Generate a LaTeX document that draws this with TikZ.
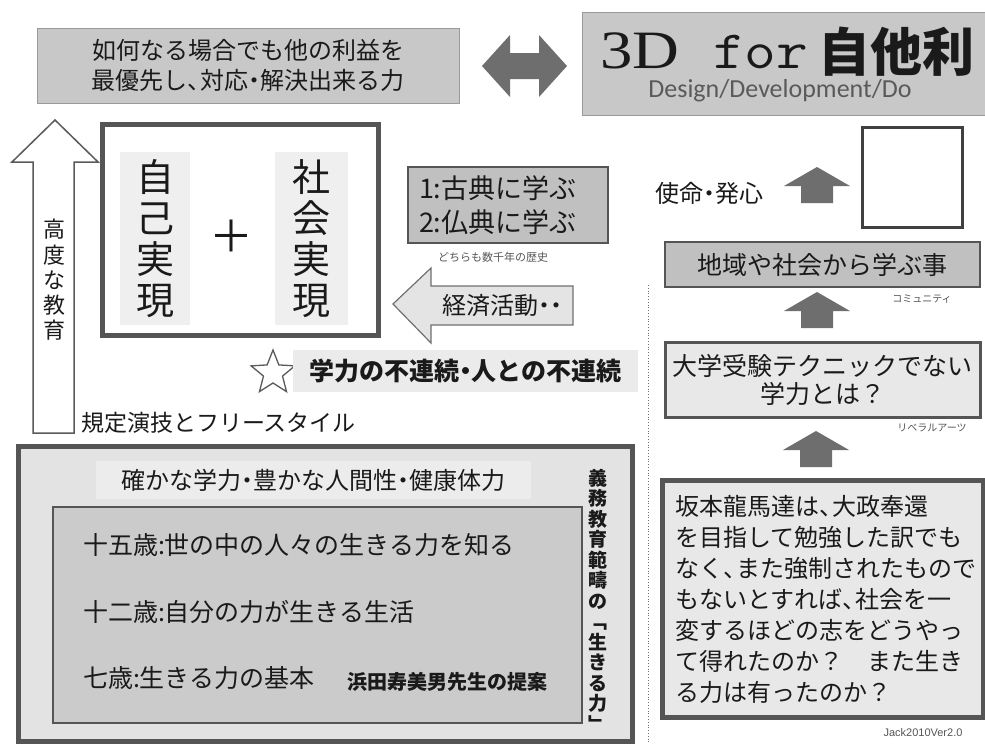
\documentclass[tikz,border=0pt]{standalone}
\usepackage{graphicx}
\usepackage{fontspec}
\setmainfont{Noto Sans CJK JP}
\newfontfamily\serifA{Liberation Serif}
\newfontfamily\carl{Carlito}
\newfontfamily\lsans{Liberation Sans}
\usetikzlibrary{shapes.geometric}
\definecolor{boxgray}{HTML}{C8C8C8}
\definecolor{boxgraytwo}{HTML}{C0C0C0}
\definecolor{edgeA}{HTML}{9A9A9A}
\definecolor{edgeB}{HTML}{5A5A5A}
\definecolor{edgeC}{HTML}{555555}
\definecolor{edgeD}{HTML}{707070}
\definecolor{edgeE}{HTML}{404040}
\definecolor{arrowgray}{HTML}{6E6E6E}
\definecolor{arrowlt}{HTML}{E4E4E4}
\definecolor{lightbg}{HTML}{EBEBEB}
\definecolor{outerfill}{HTML}{E3E3E3}
\definecolor{headerfill}{HTML}{ECECEC}
\definecolor{innerfill}{HTML}{CBCBCB}
\definecolor{innerlt}{HTML}{EFEFEF}
\definecolor{lightbox}{HTML}{E8E8E8}
\definecolor{textgray}{HTML}{555555}
\definecolor{inkc}{HTML}{1A1A1A}
\newcommand{\jfs}[2]{\fontsize{#1}{#2}\selectfont}
\newcommand{\tenN}{\makebox[0.55em][l]{、}}
\newcommand{\dotN}{\makebox[0.5em][c]{・}}
\tikzset{
  uparr/.pic={\fill[arrowgray] (0,0) -- (33,19) -- (16,19) -- (16,36) -- (-16,36) -- (-16,19) -- (-33,19) -- cycle;},
  flatbox/.style={draw=edgeA, line width=1pt, fill=boxgray},
  darkbox/.style={draw=edgeC},
  tinylabel/.style={text=textgray},
}
\begin{document}
\begin{tikzpicture}[x=1pt,y=-1pt, every node/.style={inner sep=0pt, outer sep=0pt, text=inkc}]
\useasboundingbox (0,0) rectangle (985,744);
\fill[white] (0,0) rectangle (985,744);

% top-left goal box
\node[flatbox, minimum width=422, minimum height=75, align=center, font=\jfs{24}{30}] (goal) at (248,65.5) {如何なる場合でも他の利益を\\最優先し\tenN 対応\dotN 解決出来る力};

% double arrow
\fill[arrowgray] (482,66) -- (510,35) -- (510,53) -- (539,53) -- (539,35) -- (567,66) -- (539,97) -- (539,79) -- (510,79) -- (510,97) -- cycle;

% title box
\node[flatbox, minimum width=406, minimum height=103, anchor=north west] (title) at (582,12) {};
\node[anchor=base, font=\serifA\fontsize{54}{54}\selectfont] (t3d) at (640,68) {\scalebox{1.2}[1]{3D}};
\node[anchor=base west, font=\ttfamily\fontsize{54}{54}\selectfont] (tfor) at (713,68) {\scalebox{1.14}[1]{for}};
\node[anchor=base west, font=\bfseries\jfs{52}{52}] (tjita) at (818,71) {自他利};
\node[font=\carl\fontsize{26}{26}\selectfont, text=edgeB] (tsub) at (780,91) {Design/Development/Do};

% white up arrow
\filldraw[fill=white, draw=edgeB, line width=1.5] (55,120) -- (98,162) -- (74,162) -- (74,433) -- (33,433) -- (33,162) -- (12,162) -- cycle;
\node[font=\jfs{22}{25.2}, align=center] (edu) at (54,280) {高\\度\\な\\教\\育};

% self + social realisation
\node[darkbox, line width=5, fill=white, minimum width=276, minimum height=211] (real) at (240,229.5) {};
\node[fill=innerlt, minimum width=70, minimum height=173, align=center, font=\jfs{38}{41}] (self) at (155,238.5) {自\\己\\実\\現};
\node[fill=innerlt, minimum width=73, minimum height=173, align=center, font=\jfs{38}{41}] (social) at (311.5,238.5) {社\\会\\実\\現};
\node[font=\jfs{44}{44}] (plus) at (231,236) {＋};

% classics box
\node[darkbox, line width=2, fill=boxgraytwo, minimum width=200, minimum height=76] (classics) at (508,205) {};
\node[anchor=west, align=left, font=\jfs{27}{34}] (classicstext) at (419,205) {1:古典に学ぶ\\2:仏典に学ぶ};
\node[tinylabel, font=\jfs{11}{11}] (hist) at (493,257) {どちらも数千年の歴史};

% economy arrow
\filldraw[fill=arrowlt, draw=edgeD, line width=1.2] (393,304) -- (431,268) -- (431,286) -- (573,286) -- (573,325) -- (431,325) -- (431,343) -- cycle;
\node[font=\jfs{24}{24}] (econ) at (502,305) {経済活動\dotN\dotN};

% star + discontinuity
\node[star, star points=5, star point ratio=2.3, minimum size=46, draw=edgeB, fill=white, line width=1.3] (star) at (273,373) {};
\node[fill=lightbg, minimum width=345, minimum height=42, font=\bfseries\jfs{25}{25}] (gap) at (465.5,371) {学力の不連続\dotN 人との不連続};

\node[anchor=west, font=\jfs{23}{23}] (kitei) at (81,423) {規定演技とフリースタイル};

% compulsory education box
\node[darkbox, line width=5, fill=outerfill, minimum width=614, minimum height=295, anchor=north west] (compulsory) at (18,446) {};
\node[fill=headerfill, minimum width=435, minimum height=38, font=\jfs{24}{24}] (hdr) at (313,480) {確かな学力\dotN 豊かな人間性\dotN 健康体力};
\node[darkbox, line width=2, fill=innerfill, minimum width=529, minimum height=216, anchor=north west] (ages) at (53,507) {};
\node[anchor=west, font=\jfs{25}{25}] (a15) at (83,545) {十五歳:世の中の人々の生きる力を知る};
\node[anchor=west, font=\jfs{25}{25}] (a12) at (83,612) {十二歳:自分の力が生きる生活};
\node[anchor=west, font=\jfs{25}{25}] (a7) at (83,678) {七歳:生きる力の基本};
\node[anchor=west, font=\bfseries\jfs{20}{20}] (hamada) at (347,682) {浜田寿美男先生の提案};
\node[align=center, font=\bfseries\jfs{19}{20.5}] (ikiru) at (598,600) {義\\務\\教\\育\\範\\疇\\の\\﹁\\生\\き\\る\\力\\﹂};

% divider
\coordinate (divtop) at (648,285);
\coordinate (divbot) at (648,744);
\draw[dotted, draw=edgeD, line width=0.8] (divtop) -- (divbot);

% right column
\node[font=\jfs{24}{24}] (mission) at (709,193) {使命\dotN 発心};
\pic at (817,167) {uparr};
\node[draw=edgeE, line width=3, fill=white, minimum width=100, minimum height=100] (blank) at (912,177) {};
\node[darkbox, line width=2.5, fill=boxgraytwo, minimum width=315, minimum height=45, font=\jfs{25}{25}] (community) at (822.5,264.5) {地域や社会から学ぶ事};
\node[tinylabel, font=\jfs{10}{10}] (commlbl) at (922,299) {コミュニティ};
\pic at (817,292) {uparr};
\node[darkbox, line width=3, fill=lightbox, minimum width=315, minimum height=75, align=center, font=\jfs{25}{28}] (liberal) at (822.5,379.5) {大学受験テクニックでない\\学力とは？};
\node[tinylabel, font=\jfs{10}{10}] (liblbl) at (932,428) {リベラルアーツ};
\pic at (816,431) {uparr};
\node[darkbox, line width=5, fill=lightbox, minimum width=321, minimum height=237, anchor=north west] (ryoma) at (662,480) {};
\node[anchor=west, align=left, font=\jfs{24}{31}] (ryomatext) at (675,599) {坂本龍馬達は\tenN 大政奉還\\を目指して勉強した訳でも\\なく\tenN また強制されたもので\\もないとすれば\tenN 社会を一\\変するほどの志をどうやっ\\て得れたのか？　また生き\\る力は有ったのか？};
\node[tinylabel, font=\lsans\fontsize{11}{11}\selectfont] (jack) at (923,733) {Jack2010Ver2.0};
\end{tikzpicture}
\end{document}
